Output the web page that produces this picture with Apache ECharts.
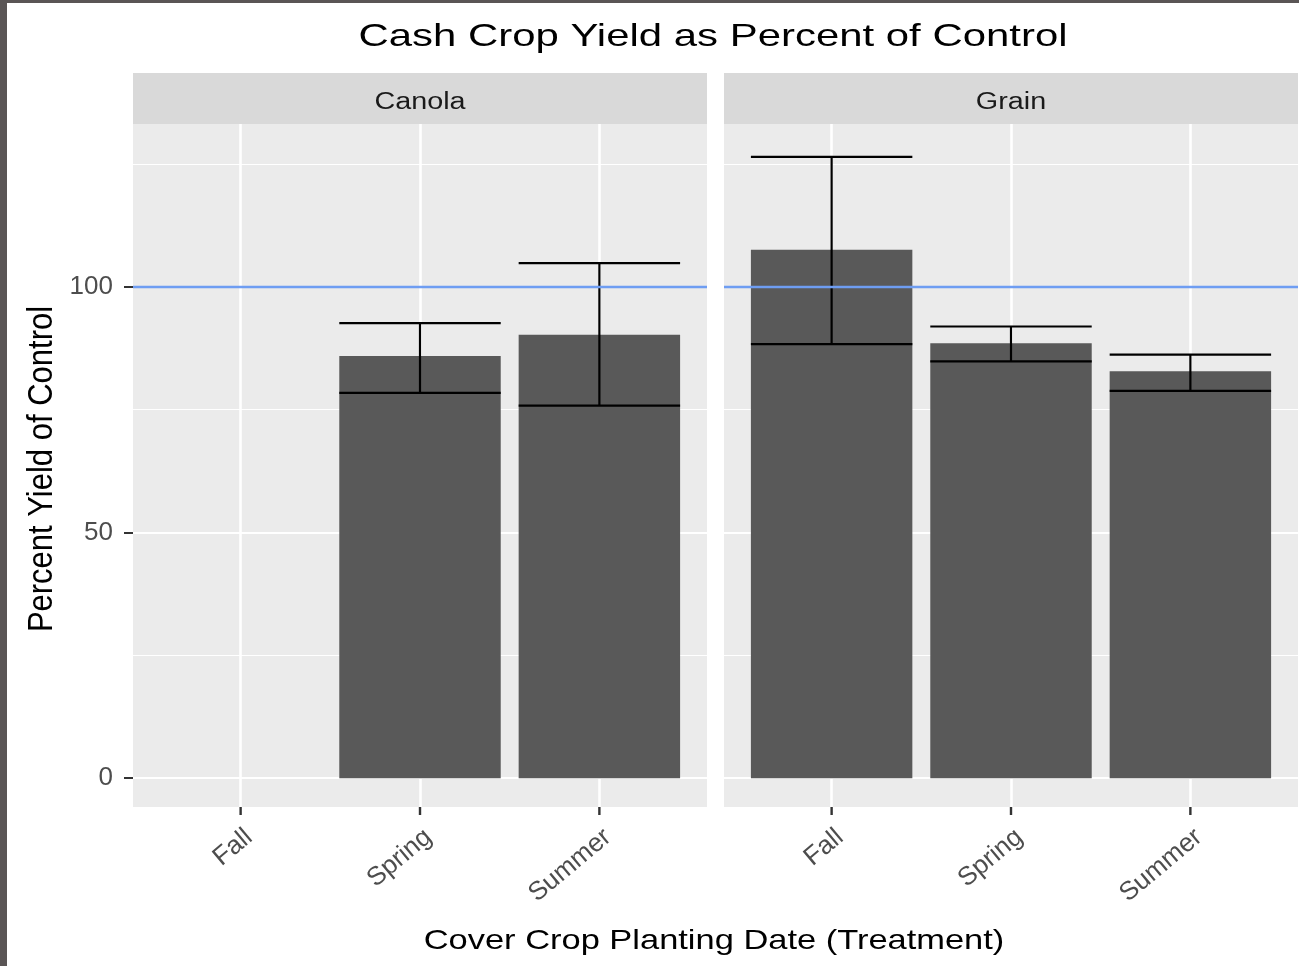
<!DOCTYPE html>
<html>
<head>
<meta charset="utf-8">
<title>Cash Crop Yield as Percent of Control</title>
<script src="https://cdn.jsdelivr.net/npm/echarts@6/dist/echarts.min.js"></script>
<style>
  html, body { margin: 0; padding: 0; background: #ffffff; }
  #chart { width: 1299px; height: 966px; }
</style>
</head>
<body>
<div id="chart"></div>
<script>
// Facets and treatments
const crops = ['Canola', 'Grain'];
const treatments = ['Fall', 'Spring', 'Summer'];

// Mean yield (% of control) and error bar limits per treatment; null = no data
const canolaYield = [null, 85.9, 90.2];
const canolaLow   = [null, 78.4, 75.8];
const canolaHigh  = [null, 92.6, 104.8];

const grainYield = [107.5, 88.5, 82.8];
const grainLow   = [88.3, 84.8, 78.8];
const grainHigh  = [126.4, 91.9, 86.2];

// Y axis ticks and gridlines
const yTicks = [0, 50, 100];
const yMinorGrid = [25, 75, 125];
const controlLevel = 100;

const FONT = '"Liberation Sans", Arial, sans-serif';
const BAR_HALF = 0.45;
const PANEL_BG = '#EBEBEB';
const STRIP_BG = '#D9D9D9';

const panels = [
  { yield: canolaYield, low: canolaLow, high: canolaHigh },
  { yield: grainYield, low: grainLow, high: grainHigh }
];

function rowsFor(p) {
  const rows = [];
  treatments.forEach((t, i) => {
    if (p.yield[i] != null) rows.push([i + 1, p.yield[i], p.low[i], p.high[i]]);
  });
  return rows;
}

function renderBar(params, api) {
  const x = api.value(0), v = api.value(1);
  const a = api.coord([x - BAR_HALF, v]);
  const b = api.coord([x + BAR_HALF, 0]);
  return {
    type: 'rect',
    shape: { x: a[0], y: a[1], width: b[0] - a[0], height: b[1] - a[1] },
    style: { fill: '#595959' }
  };
}

function renderErrorBar(params, api) {
  const x = api.value(0), lo = api.value(2), hi = api.value(3);
  const tl = api.coord([x - BAR_HALF, hi]);
  const tr = api.coord([x + BAR_HALF, hi]);
  const bl = api.coord([x - BAR_HALF, lo]);
  const br = api.coord([x + BAR_HALF, lo]);
  const mt = api.coord([x, hi]);
  const mb = api.coord([x, lo]);
  const st = { stroke: '#000000', lineWidth: 2.2 };
  return {
    type: 'group',
    children: [
      { type: 'line', shape: { x1: tl[0], y1: tl[1], x2: tr[0], y2: tr[1] }, style: st },
      { type: 'line', shape: { x1: mt[0], y1: mt[1], x2: mb[0], y2: mb[1] }, style: st },
      { type: 'line', shape: { x1: bl[0], y1: bl[1], x2: br[0], y2: br[1] }, style: st }
    ]
  };
}

// Tick marks below each panel, one per treatment
function renderXTick(params, api) {
  const x = api.value(0);
  const p = api.coord([x, api.value(1)]);
  return {
    type: 'line',
    shape: { x1: p[0], y1: p[1], x2: p[0], y2: p[1] + 8 },
    style: { stroke: '#333333', lineWidth: 2.4 }
  };
}

const Y_MIN = -5.85, Y_MAX = 133.1;

const gridLayout = [
  { left: 133, right: 592, top: 124, bottom: 159 },
  { left: 724, right: 1, top: 124, bottom: 159 }
];

const grids = gridLayout.map(g => Object.assign({
  show: true, backgroundColor: PANEL_BG, borderWidth: 0, containLabel: false
}, g));

const xAxes = panels.map((p, i) => ({
  type: 'value', gridIndex: i, min: 0.4, max: 3.6,
  axisLine: { show: false },
  splitLine: { show: false },
  axisTick: { show: false },
  axisLabel: {
    show: true, customValues: [1, 2, 3], rotate: 40, margin: 17,
    align: 'right', verticalAlign: 'top',
    formatter: v => treatments[Math.round(v) - 1],
    color: '#4D4D4D', fontSize: 26, fontFamily: FONT
  }
}));

const yAxes = panels.map((p, i) => ({
  type: 'value', gridIndex: i, min: Y_MIN, max: Y_MAX,
  axisLine: { show: false },
  splitLine: { show: false },
  axisTick: { show: i === 0, customValues: yTicks, length: 9, lineStyle: { color: '#333333', width: 2 } },
  axisLabel: {
    show: i === 0, customValues: yTicks, margin: 20,
    color: '#4D4D4D', fontSize: 26, fontFamily: FONT
  }
}));

const series = [];
panels.forEach((p, i) => {
  const rows = rowsFor(p);
  // panel gridlines
  series.push({
    type: 'line', xAxisIndex: i, yAxisIndex: i, data: [], silent: true, symbol: 'none',
    markLine: {
      silent: true, symbol: ['none', 'none'], z: 1, animation: false,
      label: { show: false },
      data: []
        .concat(yMinorGrid.map(v => ({ yAxis: v, lineStyle: { color: '#ffffff', width: 1.2, type: 'solid' } })))
        .concat(yTicks.map(v => ({ yAxis: v, lineStyle: { color: '#ffffff', width: 2.2, type: 'solid' } })))
        .concat(treatments.map((t, k) => ({ xAxis: k + 1, lineStyle: { color: '#ffffff', width: 2.6, type: 'solid' } })))
    }
  });
  series.push({
    type: 'custom', name: crops[i] + ' yield', xAxisIndex: i, yAxisIndex: i, z: 2,
    renderItem: renderBar, data: rows, encode: { x: 0, y: 1 }, animation: false
  });
  series.push({
    type: 'custom', name: crops[i] + ' error', xAxisIndex: i, yAxisIndex: i, z: 3,
    renderItem: renderErrorBar, data: rows, encode: { x: 0, y: [2, 3] }, animation: false
  });
  series.push({
    type: 'custom', name: crops[i] + ' ticks', xAxisIndex: i, yAxisIndex: i, z: 3,
    renderItem: renderXTick, clip: false, silent: true, animation: false,
    data: treatments.map((t, k) => [k + 1, Y_MIN]), encode: { x: 0, y: 1 }
  });
  // control reference line
  series.push({
    type: 'line', xAxisIndex: i, yAxisIndex: i, data: [], silent: true, symbol: 'none',
    markLine: {
      silent: true, symbol: ['none', 'none'], z: 6, animation: false,
      label: { show: false },
      data: [{ yAxis: controlLevel, lineStyle: { color: '#6E9DF2', width: 2.4, type: 'solid' } }]
    }
  });
});

const stripCenters = [
  (133 + 707) / 2,
  (724 + 1298) / 2
];

const graphic = [
  // window frame edges
  { type: 'rect', left: 0, top: 0, shape: { width: 7, height: 966 }, style: { fill: '#5A5555' }, silent: true },
  { type: 'rect', left: 0, top: 0, shape: { width: 1299, height: 3 }, style: { fill: '#5A5555' }, silent: true },
  // facet strips
  { type: 'rect', x: 133, y: 73, shape: { width: 574, height: 51 }, style: { fill: STRIP_BG }, silent: true },
  { type: 'rect', x: 724, y: 73, shape: { width: 574, height: 51 }, style: { fill: STRIP_BG }, silent: true },
  ...crops.map((c, i) => ({
    type: 'text', x: stripCenters[i], y: 103, scaleX: 1.25, silent: true,
    style: { text: c, fill: '#1A1A1A', font: '23px ' + FONT, textAlign: 'center', textVerticalAlign: 'middle' }
  })),
  // title
  {
    type: 'text', x: 713, y: 37, scaleX: 1.31, silent: true,
    style: { text: 'Cash Crop Yield as Percent of Control', fill: '#000000', font: '32px ' + FONT, textAlign: 'center', textVerticalAlign: 'middle' }
  },
  // axis titles
  {
    type: 'text', x: 714, y: 941, scaleX: 1.23, silent: true,
    style: { text: 'Cover Crop Planting Date (Treatment)', fill: '#000000', font: '28px ' + FONT, textAlign: 'center', textVerticalAlign: 'middle' }
  },
  {
    type: 'text', x: 42, y: 469, rotation: Math.PI / 2, scaleY: 1.15, silent: true,
    style: { text: 'Percent Yield of Control', fill: '#000000', font: '31px ' + FONT, textAlign: 'center', textVerticalAlign: 'middle' }
  }
];

const chart = echarts.init(document.getElementById('chart'), null, { renderer: 'canvas' });
chart.setOption({
  backgroundColor: '#ffffff',
  animation: false,
  grid: grids,
  xAxis: xAxes,
  yAxis: yAxes,
  series: series,
  graphic: graphic
});
</script>
</body>
</html>
